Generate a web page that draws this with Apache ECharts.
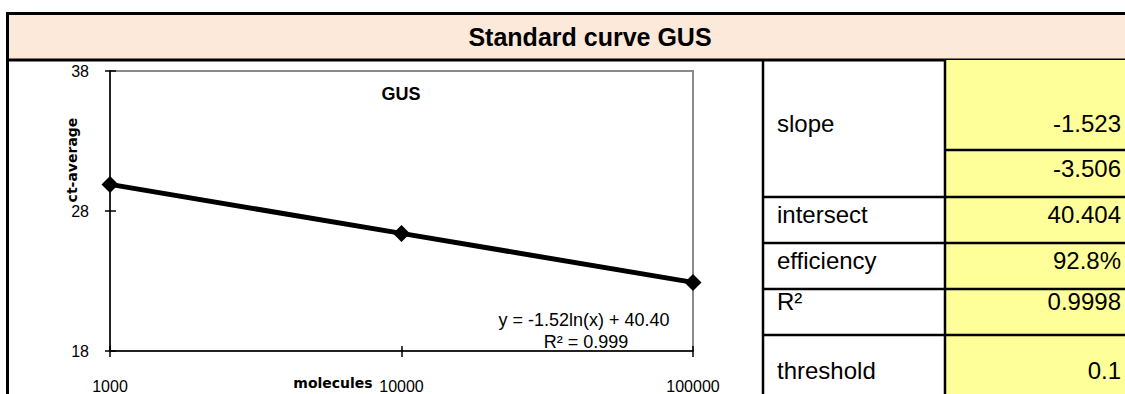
<!DOCTYPE html>
<html>
<head>
<meta charset="utf-8">
<title>Standard curve GUS</title>
<script src="https://cdn.jsdelivr.net/npm/echarts@6/dist/echarts.min.js"></script>
<style>
  html, body { margin: 0; padding: 0; background: #ffffff; }
  #chart { width: 1125px; height: 394px; }
</style>
</head>
<body>
<div id="chart"></div>
<script>
// Standard curve data: molecule count vs. averaged Ct
const molecules = [1000, 10000, 100000];
const ctAverage = [29.9, 26.4, 22.9];

// Axis ranges / ticks
const xTicks = [1000, 10000, 100000];
const yTicks = [18, 28, 38];

// Fit annotation
const fitText = ['y = -1.52ln(x) + 40.40', 'R\u00b2 = 0.999'];

// Summary table
const statNames = ['slope', 'intersect', 'efficiency', 'R\u00b2', 'threshold'];
const statValues = ['-1.523', '-3.506', '40.404', '92.8%', '0.9998', '0.1'];

const sheetTitle = 'Standard curve GUS';
const chartTitle = 'GUS';
const xName = 'molecules';
const yName = 'ct-average';

const chart = echarts.init(document.getElementById('chart'), null, { renderer: 'svg' });

const BLACK = '#000000';
const PEACH = '#FCE9DA';
const YELLOW = '#FFFF99';
const tickFont = "'Liberation Sans', Arial, sans-serif";
const cellFont = "'Liberation Sans', Arial, sans-serif";

function hLine(x1, x2, y, w) {
  return { type: 'line', shape: { x1: x1, y1: y, x2: x2, y2: y }, style: { stroke: BLACK, lineWidth: w }, z: 20 };
}
function vLine(x, y1, y2, w) {
  return { type: 'line', shape: { x1: x, y1: y1, x2: x, y2: y2 }, style: { stroke: BLACK, lineWidth: w }, z: 20 };
}
function cellText(str, x, y, align) {
  return {
    type: 'text', x: x, y: y, z: 21,
    style: { text: str, fill: BLACK, font: '24px ' + cellFont, align: align, verticalAlign: 'middle' }
  };
}

// vertical centres of the table rows
const nameRowY = [123, 214, 260, 301, 370];
const valueRowY = [123, 168, 214, 260, 301, 370];

const graphics = [
  // sheet header band
  { type: 'rect', shape: { x: 7.5, y: 13.5, width: 1130, height: 46.5 },
    style: { fill: PEACH, stroke: BLACK, lineWidth: 3 }, z: 10 },
  { type: 'text', x: 590, y: 37, z: 21,
    style: { text: sheetTitle, fill: BLACK, font: 'bold 25px ' + cellFont, align: 'center', verticalAlign: 'middle' } },
  // yellow value column
  { type: 'rect', shape: { x: 945, y: 60, width: 185, height: 340 }, style: { fill: YELLOW }, z: 10 },
  // frame lines
  vLine(7.5, 60, 400, 3),
  vLine(763, 60, 400, 2.5),
  vLine(945, 60, 400, 2.5),
  hLine(945, 1130, 150, 2.5),
  hLine(763, 1130, 197, 2.5),
  hLine(763, 1130, 243, 2.5),
  hLine(763, 1130, 289, 2.5),
  hLine(763, 1130, 335, 2.5),
  // chart title
  { type: 'text', x: 401, y: 94, z: 21,
    style: { text: chartTitle, fill: BLACK, font: 'bold 18px ' + cellFont, align: 'center', verticalAlign: 'middle' } },
  // axis names
  { type: 'text', x: 72, y: 160, rotation: Math.PI / 2, z: 21,
    style: { text: yName, fill: BLACK, font: "bold 14px 'DejaVu Sans', Verdana, sans-serif", align: 'center', verticalAlign: 'middle' } },
  { type: 'text', x: 333, y: 383, z: 21,
    style: { text: xName, fill: BLACK, font: "bold 14px 'DejaVu Sans', Verdana, sans-serif", align: 'center', verticalAlign: 'middle' } },
  // trendline equation
  { type: 'text', x: 584, y: 320, z: 21,
    style: { text: fitText[0], fill: BLACK, font: '18px ' + tickFont, align: 'center', verticalAlign: 'middle' } },
  { type: 'text', x: 586, y: 342, z: 21,
    style: { text: fitText[1], fill: BLACK, font: '18px ' + tickFont, align: 'center', verticalAlign: 'middle' } }
];

statNames.forEach((s, i) => graphics.push(cellText(s, 777, nameRowY[i], 'left')));
statValues.forEach((s, i) => graphics.push(cellText(s, 1121, valueRowY[i], 'right')));

const labelFmt = v => String(Math.round(v));

const option = {
  animation: false,
  backgroundColor: '#ffffff',
  grid: {
    left: 110, top: 71, right: 432, bottom: 39,
    show: true, borderColor: '#8a8a8a', borderWidth: 2, backgroundColor: 'transparent'
  },
  xAxis: [
    {
      type: 'log', logBase: 10, min: xTicks[0], max: xTicks[xTicks.length - 1],
      axisLine: { show: true, lineStyle: { color: BLACK, width: 1.5 } },
      axisTick: { show: true, inside: false, length: 6, lineStyle: { color: BLACK, width: 1.5 } },
      axisLabel: { show: true, margin: 27, color: BLACK, fontSize: 16, fontFamily: tickFont, formatter: labelFmt },
      splitLine: { show: false }
    },
    {
      type: 'log', logBase: 10, min: xTicks[0], max: xTicks[xTicks.length - 1], position: 'bottom',
      axisLine: { show: false },
      axisTick: { show: true, inside: true, length: 5, lineStyle: { color: BLACK, width: 1.5 } },
      axisLabel: { show: false },
      splitLine: { show: false }
    }
  ],
  yAxis: [
    {
      type: 'value', min: yTicks[0], max: yTicks[yTicks.length - 1], interval: yTicks[1] - yTicks[0],
      axisLine: { show: true, lineStyle: { color: BLACK, width: 1.5 } },
      axisTick: { show: true, inside: false, length: 5, lineStyle: { color: BLACK, width: 1.5 } },
      axisLabel: { show: true, margin: 21, color: BLACK, fontSize: 16, fontFamily: tickFont },
      splitLine: { show: false }
    },
    {
      type: 'value', min: yTicks[0], max: yTicks[yTicks.length - 1], interval: yTicks[1] - yTicks[0], position: 'left',
      axisLine: { show: false },
      axisTick: { show: true, inside: true, length: 6, lineStyle: { color: BLACK, width: 1.5 } },
      axisLabel: { show: false },
      splitLine: { show: false }
    }
  ],
  series: [
    {
      type: 'line',
      xAxisIndex: 0, yAxisIndex: 0,
      data: molecules.map((m, i) => [m, ctAverage[i]]),
      symbol: 'diamond', symbolSize: [17, 17],
      lineStyle: { color: BLACK, width: 5 },
      itemStyle: { color: BLACK },
      z: 5
    }
  ],
  graphic: graphics
};

chart.setOption(option);
</script>
</body>
</html>
